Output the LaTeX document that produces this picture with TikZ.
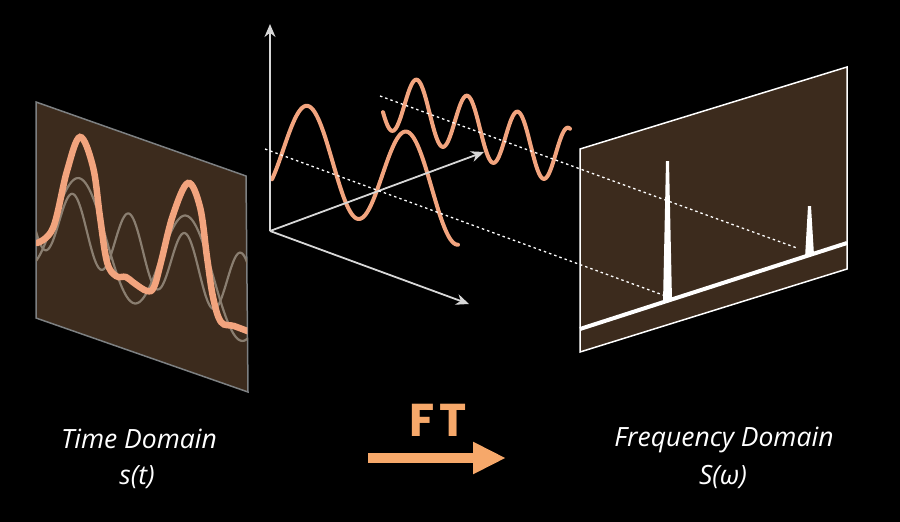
\documentclass[tikz,border=0pt]{standalone}
\usepackage{fontspec}
\setsansfont{Open Sans}
\newfontfamily\handfont[LetterSpace=12]{Poppins}
\usetikzlibrary{arrows.meta}
\definecolor{panelbrown}{RGB}{60,43,29}
\definecolor{wavepeach}{RGB}{242,164,126}
\definecolor{wavegrey}{RGB}{138,126,112}
\definecolor{framegrey}{RGB}{125,128,130}
\definecolor{axisgrey}{RGB}{215,215,215}
\definecolor{ftorange}{RGB}{246,168,106}
\tikzset{
	panel/.style={fill=panelbrown, line width=1.5pt},
	wave/.style={wavepeach, line width=4pt, line cap=round},
	greywave/.style={wavegrey, line width=2.2pt},
	axis/.style={axisgrey, line width=1.8pt, -{Stealth[length=13pt,width=11pt]}},
	guide/.style={white, line width=1.3pt, dash pattern=on 2.5pt off 3pt},
	domaintext/.style={text=white, font=\sffamily\itshape\fontsize{26.5}{30}\selectfont},
}

\begin{document}
\begin{tikzpicture}[x=1pt, y=-1pt]
		\fill [black] (0,0) rectangle (900,522);
		\useasboundingbox (0,0) rectangle (900,522);
		% time domain panel
		\coordinate (lTL) at (36,102);
		\coordinate (lTR) at (246,176);
		\coordinate (lBR) at (248,392);
		\coordinate (lBL) at (36,318);
		\draw [panel, draw=framegrey] (lTL) -- (lTR) -- (lBR) -- (lBL) -- cycle;
		\begin{scope}
			\clip (lTL) -- (lTR) -- (lBR) -- (lBL) -- cycle;
			\draw [greywave] plot [domain=36:248, samples=160] (\x, {216+0.35*(\x-36)-53*cos(3.3645*(\x-80))});
			\draw [greywave] plot [domain=36:248, samples=160] (\x, {214+0.35*(\x-36)-33*cos(6.4286*(\x-73))});
			\draw [wavepeach, line width=6.5pt, line cap=round] plot [smooth, tension=0.6] coordinates {(37,243) (53,228) (67,171) (80,137) (93,167) (100,217) (107,262) (116,276) (126,277) (134,283) (147,291) (154,287) (161,262) (173,215) (188,183) (200,207) (207,257) (213,297) (221,322) (234,326) (250,332)};
		\end{scope}
		% signal waves
		\draw [wave] plot [domain=272:458, samples=150] (\x, {170+0.26*(\x-362)-50*cos(3.6364*(\x-308))});
		\draw [wave] plot [domain=383:570, samples=180] (\x, {117.5+0.317*(\x-443)-29.5*cos(7.1287*(\x-417))});
		% axes
		\coordinate (origin) at (270,231);
		\coordinate (ampTip) at (270,24);
		\coordinate (freqTip) at (484,152);
		\coordinate (timeTip) at (469,304);
		\draw [axis] (origin) -- (ampTip);
		\draw [axis] (origin) -- (freqTip);
		\draw [axis] (origin) -- (timeTip);
		% frequency domain panel
		\coordinate (rTL) at (580,149);
		\coordinate (rTR) at (847,67);
		\coordinate (rBR) at (847,269);
		\coordinate (rBL) at (580,352);
		\draw [panel, draw=white] (rTL) -- (rTR) -- (rBR) -- (rBL) -- cycle;
		\coordinate (specStart) at (580,329);
		\coordinate (specEnd) at (847,243);
		\draw [white, line width=4pt] (specStart) -- (specEnd);
		\fill [white] (663,303) -- (666,161) -- (669,161) -- (672,300) -- cycle;
		\fill [white] (805,258) -- (808,206) -- (811,206) -- (814,255) -- cycle;
		% projections
		\coordinate (hiStart) at (380,96);
		\coordinate (hiPeak) at (797,248);
		\coordinate (loStart) at (265,149);
		\coordinate (loPeak) at (663,295);
		\draw [guide] (hiStart) -- (hiPeak);
		\draw [guide] (loStart) -- (loPeak);
		% labels
		\node (timelabel) at (139,439) [domaintext] {Time Domain};
		\node (timefn) at (137,477) [domaintext] {s(t)};
		\node (freqlabel) at (724,440) [domaintext] {Frequency Domain};
		\node (freqfn) at (723,477) [domaintext] {S(ω)};
		\node (ftlabel) at (438,420) [text=ftorange, font=\handfont\bfseries\fontsize{46}{50}\selectfont] {FT};
		\coordinate (ftStart) at (368,458);
		\coordinate (ftEnd) at (506,458);
		\draw [ftorange, line width=10pt, -{Triangle[length=33pt,width=30pt]}] (ftStart) -- (ftEnd);
	\end{tikzpicture}
\end{document}
